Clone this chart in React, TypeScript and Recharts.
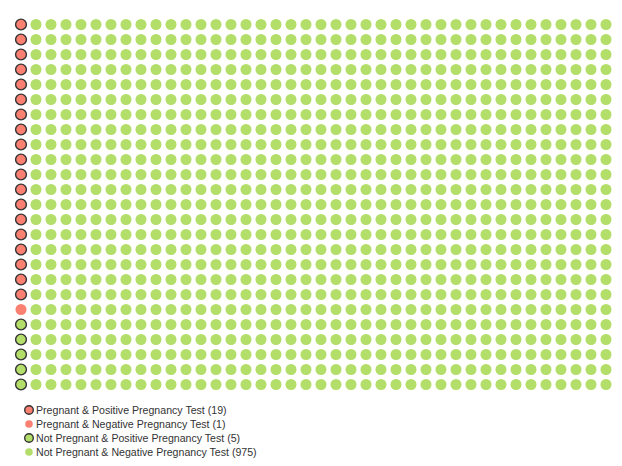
import { Scatter, ScatterChart, XAxis, YAxis, ZAxis } from 'recharts';

const categories = [
  'Pregnant & Positive Pregnancy Test',
  'Pregnant & Negative Pregnancy Test',
  'Not Pregnant & Positive Pregnancy Test',
  'Not Pregnant & Negative Pregnancy Test'
];
const counts = [19, 1, 5, 975];
const colors = ['#fb8072', '#fb8072', '#b3de69', '#b3de69'];
const outlined = [true, false, true, false];

const ROWS = 25;

// one point per person, filled column by column
const series = categories.map((name, k) => {
  const start = counts.slice(0, k).reduce((a, b) => a + b, 0);
  const pts = [];
  for (let i = start; i < start + counts[k]; i++) {
    pts.push({ col: Math.floor(i / ROWS), row: i % ROWS });
  }
  return { name, points: pts, color: colors[k], outlined: outlined[k] };
});

const Dot = (props: any) => {
  const { cx, cy, fill, ring } = props;
  if (cx == null || cy == null) return null;
  return ring ? (
    <circle cx={cx} cy={cy} r={5.4} fill={fill} stroke="#333" strokeWidth={1.4} />
  ) : (
    <circle cx={cx} cy={cy} r={5.5} fill={fill} />
  );
};

const LegendBox = () => (
  <div style={{ fontFamily: 'Arial, "Liberation Sans", sans-serif', fontSize: 10.6, color: '#333' }}>
    {series.map((s, k) => (
      <div key={k} style={{ display: 'flex', alignItems: 'center', height: 14 }}>
        <svg width={12} height={12} style={{ marginRight: 1 }}>
          {s.outlined ? (
            <circle cx={6} cy={6} r={4.3} fill={s.color} stroke="#333" strokeWidth={1.4} />
          ) : (
            <circle cx={6} cy={6} r={3.8} fill={s.color} />
          )}
        </svg>
        <span>{`${s.name} (${counts[k]})`}</span>
      </div>
    ))}
  </div>
);

export default function App() {
  return (
    <div style={{ position: 'relative', width: 614, height: 458 }}>
      <ScatterChart
        width={614}
        height={458}
        margin={{ top: 16.5, right: 16, bottom: 81.5, left: 13 }}
      >
        <XAxis type="number" dataKey="col" domain={[0, 39]} hide />
        <YAxis type="number" dataKey="row" domain={[0, ROWS - 1]} reversed hide />
        <ZAxis range={[100, 100]} />
        {series.map((s, k) => (
          <Scatter
            key={k}
            name={s.name}
            data={s.points}
            fill={s.color}
            isAnimationActive={false}
            shape={(p: any) => <Dot {...p} ring={s.outlined} />}
          />
        ))}
      </ScatterChart>
      <div style={{ position: 'absolute', left: 15, top: 395 }}>
        <LegendBox />
      </div>
    </div>
  );
}
